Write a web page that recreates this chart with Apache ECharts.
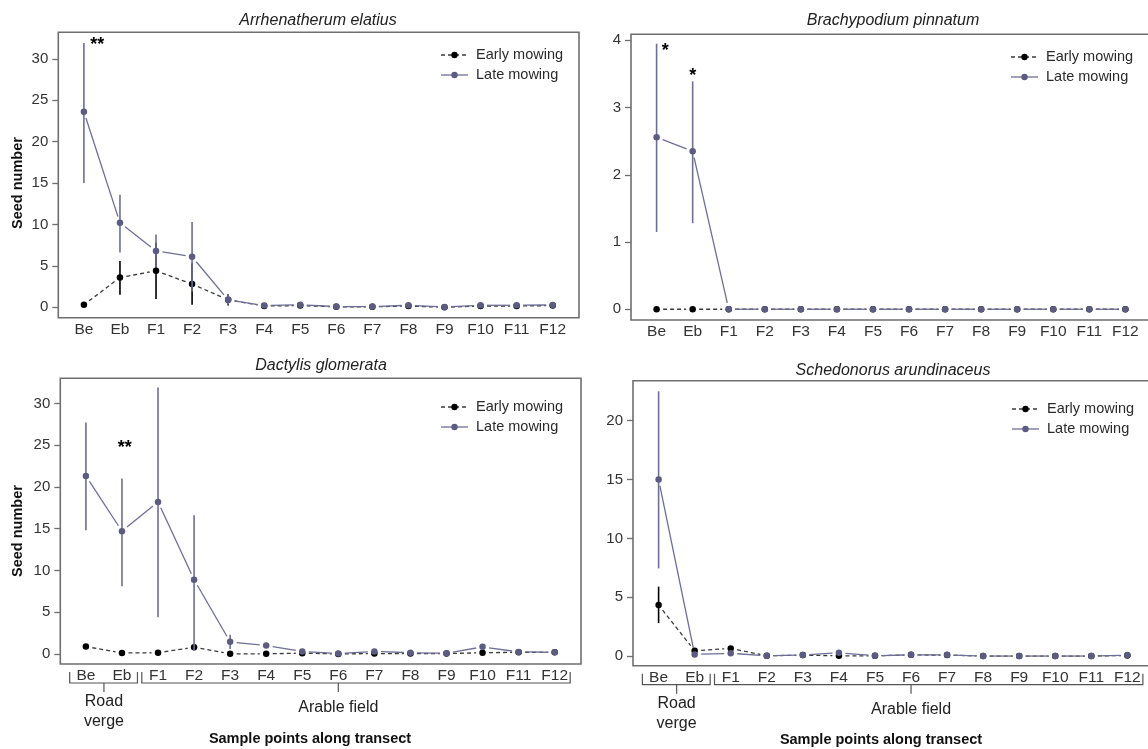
<!DOCTYPE html>
<html>
<head>
<meta charset="utf-8">
<script src="https://cdn.jsdelivr.net/npm/echarts@6/dist/echarts.min.js"></script>
<style>
html, body { margin: 0; padding: 0; background: #fff; }
#chart { width: 1148px; height: 749px; }
</style>
</head>
<body>
<div id="chart"></div>
<script>
// Sample points along the transect (road verge Be/Eb, arable field F1-F12)
const samplePoints = ['Be', 'Eb', 'F1', 'F2', 'F3', 'F4', 'F5', 'F6', 'F7', 'F8', 'F9', 'F10', 'F11', 'F12'];

// Arrhenatherum elatius - mean seed number and error bar limits
const arrEarly   = [0.3, 3.6, 4.4, 2.8, 0.9, 0.15, 0.2, 0.05, 0.05, 0.15, 0.0, 0.15, 0.15, 0.2];
const arrEarlyLo = [null, 1.5, 1.0, 0.3, 0.2, null, null, null, null, null, null, null, null, null];
const arrEarlyHi = [null, 5.6, 7.8, 5.3, 1.6, null, null, null, null, null, null, null, null, null];
const arrLate    = [23.6, 10.2, 6.8, 6.1, 0.9, 0.2, 0.3, 0.08, 0.08, 0.24, 0.04, 0.24, 0.24, 0.28];
const arrLateLo  = [15.0, 6.6, 4.8, 1.9, 0.3, null, null, null, null, null, null, null, null, null];
const arrLateHi  = [31.9, 13.6, 8.8, 10.3, 1.6, null, null, null, null, null, null, null, null, null];
const arrSig     = [[0.37, 32.2, '**']];

// Brachypodium pinnatum
const braEarly   = [0, 0, 0, 0, 0, 0, 0, 0, 0, 0, 0, 0, 0, 0];
const braEarlyLo = [null, null, null, null, null, null, null, null, null, null, null, null, null, null];
const braEarlyHi = [null, null, null, null, null, null, null, null, null, null, null, null, null, null];
const braLate    = [2.56, 2.35, 0, 0, 0, 0, 0, 0, 0, 0, 0, 0, 0, 0];
const braLateLo  = [1.15, 1.28, null, null, null, null, null, null, null, null, null, null, null, null];
const braLateHi  = [3.95, 3.39, null, null, null, null, null, null, null, null, null, null, null, null];
const braSig     = [[0.24, 3.9, '*'], [1.0, 3.53, '*']];

// Dactylis glomerata
const dacEarly   = [0.88, 0.12, 0.15, 0.8, 0.02, 0.02, 0.1, 0.0, 0.05, 0.05, 0.05, 0.15, 0.2, 0.2];
const dacEarlyLo = [null, null, null, null, null, null, null, null, null, null, null, null, null, null];
const dacEarlyHi = [null, null, null, null, null, null, null, null, null, null, null, null, null, null];
const dacLate    = [21.3, 14.7, 18.2, 8.9, 1.45, 1.0, 0.3, 0.05, 0.3, 0.15, 0.1, 0.85, 0.25, 0.2];
const dacLateLo  = [14.8, 8.1, 4.4, 0.4, 0.6, 0.75, null, null, null, null, null, 0.5, null, null];
const dacLateHi  = [27.7, 21.0, 31.9, 16.6, 2.3, 1.25, null, null, null, null, null, 1.2, null, null];
const dacSig     = [[1.08, 25.1, '**']];

// Schedonorus arundinaceus
const schEarly   = [4.33, 0.45, 0.65, 0.02, 0.08, 0.02, 0.02, 0.1, 0.08, 0.0, 0.0, 0.0, 0.0, 0.05];
const schEarlyLo = [2.8, null, 0.45, null, null, null, null, null, null, null, null, null, null, null];
const schEarlyHi = [5.9, null, 0.85, null, null, null, null, null, null, null, null, null, null, null];
const schLate    = [15.0, 0.14, 0.23, 0.03, 0.08, 0.28, 0.03, 0.1, 0.1, 0.0, 0.0, 0.0, 0.0, 0.08];
const schLateLo  = [7.45, null, null, null, null, null, null, null, null, null, null, null, null, null];
const schLateHi  = [22.5, null, null, null, null, null, null, null, null, null, null, null, null, null];
const schSig     = [];

// Y tick values per panel
const arrTicks = [0, 5, 10, 15, 20, 25, 30];
const braTicks = [0, 1, 2, 3, 4];
const dacTicks = [0, 5, 10, 15, 20, 25, 30];
const schTicks = [0, 5, 10, 15, 20];

// Sections of the transect shown under the lower panels
const groupNames = ['Road\nverge', 'Arable field'];
const groupStart = [0, 2];
const groupEnd   = [1, 13];
const groupMid   = [0.5, 7];

const FONT = '"Liberation Sans", Arial, Helvetica, sans-serif';
const LATE_LINE = '#6e6e96';
const LATE_PT = '#5c5c82';
const EARLY_PT = '#000000';
const EARLY_LINE = '#3a3a3a';
const FRAME = '#6f6f6f';
const TEXT = '#333333';

const panels = [
  { title: 'Arrhenatherum elatius', grid: { left: 58.3, top: 32.3, width: 520.7, height: 285.4 },
    yMin: -1.26, yMax: 33.2, ticks: arrTicks, yName: 'Seed number', yNamePos: [18, 183],
    early: arrEarly, earlyLo: arrEarlyLo, earlyHi: arrEarlyHi,
    late: arrLate, lateLo: arrLateLo, lateHi: arrLateHi, sig: arrSig,
    titlePos: [318, 20.5], legendPos: [441, 55], groups: false },
  { title: 'Brachypodium pinnatum', grid: { left: 631, top: 34.3, width: 520.7, height: 285.7 },
    yMin: -0.16, yMax: 4.09, ticks: braTicks, yName: '', yNamePos: null,
    early: braEarly, earlyLo: braEarlyLo, earlyHi: braEarlyHi,
    late: braLate, lateLo: braLateLo, lateHi: braLateHi, sig: braSig,
    titlePos: [893, 20.5], legendPos: [1011, 57], groups: false },
  { title: 'Dactylis glomerata', grid: { left: 60.3, top: 378.3, width: 520.7, height: 285.7 },
    yMin: -1.2, yMax: 33.0, ticks: dacTicks, yName: 'Seed number', yNamePos: [18, 531],
    early: dacEarly, earlyLo: dacEarlyLo, earlyHi: dacEarlyHi,
    late: dacLate, lateLo: dacLateLo, lateHi: dacLateHi, sig: dacSig,
    titlePos: [321, 365.5], legendPos: [441, 407], groups: true },
  { title: 'Schedonorus arundinaceus', grid: { left: 633, top: 380.7, width: 520.7, height: 285 },
    yMin: -0.82, yMax: 23.4, ticks: schTicks, yName: '', yNamePos: null,
    early: schEarly, earlyLo: schEarlyLo, earlyHi: schEarlyHi,
    late: schLate, lateLo: schLateLo, lateHi: schLateHi, sig: schSig,
    titlePos: [893, 370.5], legendPos: [1012, 409], groups: true }
];

// Vertical error bars drawn through the axis scales
function errorBars(gi, lo, hi, color, z) {
  const data = [];
  lo.forEach((v, i) => { if (v != null && hi[i] != null) data.push([i, v, hi[i]]); });
  return {
    type: 'custom', xAxisIndex: gi, yAxisIndex: gi, data, z, silent: true,
    encode: { x: 0, y: [1, 2] },
    renderItem(params, api) {
      const a = api.coord([api.value(0), api.value(1)]);
      const b = api.coord([api.value(0), api.value(2)]);
      return { type: 'line', shape: { x1: a[0], y1: a[1], x2: b[0], y2: b[1] },
               style: { stroke: color, lineWidth: 1.6 } };
    }
  };
}

// Connecting segments, left open around each point
function links(gi, mean, color, dash, z) {
  const data = [];
  for (let i = 0; i + 1 < mean.length; i++) data.push([i, mean[i], i + 1, mean[i + 1]]);
  return {
    type: 'custom', xAxisIndex: gi, yAxisIndex: gi, data, z, silent: true,
    encode: { x: [0, 2], y: [1, 3] },
    renderItem(params, api) {
      const a = api.coord([api.value(0), api.value(1)]);
      const b = api.coord([api.value(2), api.value(3)]);
      const dx = b[0] - a[0], dy = b[1] - a[1];
      const len = Math.hypot(dx, dy);
      const gap = 6.5;
      if (len <= 2 * gap) return null;
      const ux = dx / len, uy = dy / len;
      return { type: 'line',
               shape: { x1: a[0] + ux * gap, y1: a[1] + uy * gap, x2: b[0] - ux * gap, y2: b[1] - uy * gap },
               style: { stroke: color, lineWidth: 1.3, lineDash: dash || null } };
    }
  };
}

function points(gi, mean, color, z) {
  return {
    type: 'scatter', xAxisIndex: gi, yAxisIndex: gi, z, silent: true,
    data: mean.map((v, i) => [i, v]),
    symbol: 'circle', symbolSize: 6.5,
    itemStyle: { color, opacity: 1 }
  };
}

function stars(gi, sig) {
  return {
    type: 'custom', xAxisIndex: gi, yAxisIndex: gi, z: 6, silent: true,
    data: sig.map(s => [s[0], s[1]]),
    encode: { x: 0, y: 1 },
    renderItem(params, api) {
      const p = api.coord([api.value(0), api.value(1)]);
      return { type: 'text', x: p[0], y: p[1] + 4,
               style: { text: sig[params.dataIndex][2], font: 'bold 18px ' + FONT, fill: '#000',
                        align: 'center', verticalAlign: 'middle' } };
    }
  };
}

function groupBrackets(gi) {
  return {
    type: 'custom', xAxisIndex: gi, yAxisIndex: gi, z: 6, silent: true, clip: false,
    data: groupNames.map((n, i) => [groupMid[i], 0]),
    encode: { x: 0, y: 1 },
    renderItem(params, api) {
      const i = params.dataIndex;
      const cs = params.coordSys;
      const xa = api.coord([groupStart[i] - 0.45, 0])[0];
      const xb = api.coord([groupEnd[i] + 0.43, 0])[0];
      const xm = api.coord([groupMid[i], 0])[0];
      const yb = cs.y + cs.height + 19;
      const twoLines = groupNames[i].indexOf('\n') >= 0;
      return { type: 'group', children: [
        { type: 'polyline', shape: { points: [[xa, yb - 11], [xa, yb], [xb, yb], [xb, yb - 11]] },
          style: { stroke: '#555', lineWidth: 1.2, fill: null } },
        { type: 'line', shape: { x1: xm, y1: yb, x2: xm, y2: yb + 9 },
          style: { stroke: '#555', lineWidth: 1.2 } },
        { type: 'text', x: xm, y: yb + (twoLines ? 29 : 25),
          style: { text: groupNames[i], font: '16px ' + FONT, fill: '#222', align: 'center',
                   verticalAlign: 'middle', lineHeight: 20 } }
      ] };
    }
  };
}

function legendGraphic(x0, y0) {
  return [
    { type: 'line', shape: { x1: x0, y1: y0, x2: x0 + 27, y2: y0 },
      style: { stroke: EARLY_LINE, lineWidth: 1.3, lineDash: [4, 3] } },
    { type: 'circle', shape: { cx: x0 + 13.5, cy: y0, r: 3.2 }, style: { fill: EARLY_PT } },
    { type: 'text', x: x0 + 35, y: y0,
      style: { text: 'Early mowing', font: '14.5px ' + FONT, fill: '#2a2a2a', verticalAlign: 'middle' } },
    { type: 'line', shape: { x1: x0, y1: y0 + 20, x2: x0 + 27, y2: y0 + 20 },
      style: { stroke: LATE_LINE, lineWidth: 1.3 } },
    { type: 'circle', shape: { cx: x0 + 13.5, cy: y0 + 20, r: 3.2 }, style: { fill: LATE_PT } },
    { type: 'text', x: x0 + 35, y: y0 + 20,
      style: { text: 'Late mowing', font: '14.5px ' + FONT, fill: '#2a2a2a', verticalAlign: 'middle' } }
  ];
}

const grid = [], xAxis = [], yAxis = [], series = [], graphic = [];
const xCats = samplePoints.map((s, i) => i);

panels.forEach((p, gi) => {
  grid.push(Object.assign({ show: true, borderColor: FRAME, borderWidth: 1.6, backgroundColor: 'transparent',
                            containLabel: false, outerBoundsMode: 'none' }, p.grid));
  xAxis.push({
    gridIndex: gi, type: 'value', min: -0.71, max: 13.73, position: 'bottom',
    axisLine: { show: false, onZero: false }, axisTick: { show: false }, splitLine: { show: false },
    axisLabel: { customValues: xCats, formatter: v => samplePoints[Math.round(v)],
                 fontSize: 15.5, fontFamily: FONT, color: TEXT, margin: 4 }
  });
  yAxis.push({
    gridIndex: gi, type: 'value', min: p.yMin, max: p.yMax, position: 'left',
    axisLine: { show: false, onZero: false }, splitLine: { show: false },
    axisTick: { show: true, length: 6, customValues: p.ticks, lineStyle: { color: FRAME, width: 1.3 } },
    axisLabel: { customValues: p.ticks, fontSize: 15, fontFamily: FONT, color: TEXT, margin: 10 }
  });
  series.push(errorBars(gi, p.earlyLo, p.earlyHi, EARLY_PT, 2));
  series.push(links(gi, p.early, EARLY_LINE, [4, 3], 2));
  series.push(points(gi, p.early, EARLY_PT, 3));
  series.push(errorBars(gi, p.lateLo, p.lateHi, LATE_LINE, 4));
  series.push(links(gi, p.late, LATE_LINE, null, 4));
  series.push(points(gi, p.late, LATE_PT, 5));
  if (p.sig.length) series.push(stars(gi, p.sig));
  if (p.groups) series.push(groupBrackets(gi));

  graphic.push({ type: 'text', x: p.titlePos[0], y: p.titlePos[1],
                 style: { text: p.title, font: 'italic 16px ' + FONT, fill: '#222', align: 'center', verticalAlign: 'middle' } });
  if (p.yName) {
    graphic.push({ type: 'text', x: p.yNamePos[0], y: p.yNamePos[1], rotation: Math.PI / 2,
                   style: { text: p.yName, font: 'bold 14.5px ' + FONT, fill: '#111', align: 'center', verticalAlign: 'middle' } });
  }
  graphic.push(...legendGraphic(p.legendPos[0], p.legendPos[1]));
});

// Shared x-axis caption under the lower panels
graphic.push({ type: 'text', x: 310, y: 739,
               style: { text: 'Sample points along transect', font: 'bold 14.5px ' + FONT, fill: '#111', align: 'center', verticalAlign: 'middle' } });
graphic.push({ type: 'text', x: 881, y: 740,
               style: { text: 'Sample points along transect', font: 'bold 14.5px ' + FONT, fill: '#111', align: 'center', verticalAlign: 'middle' } });

const chart = echarts.init(document.getElementById('chart'), null, { renderer: 'canvas' });
chart.setOption({
  animation: false,
  backgroundColor: '#ffffff',
  grid, xAxis, yAxis, series, graphic
});
</script>
</body>
</html>
